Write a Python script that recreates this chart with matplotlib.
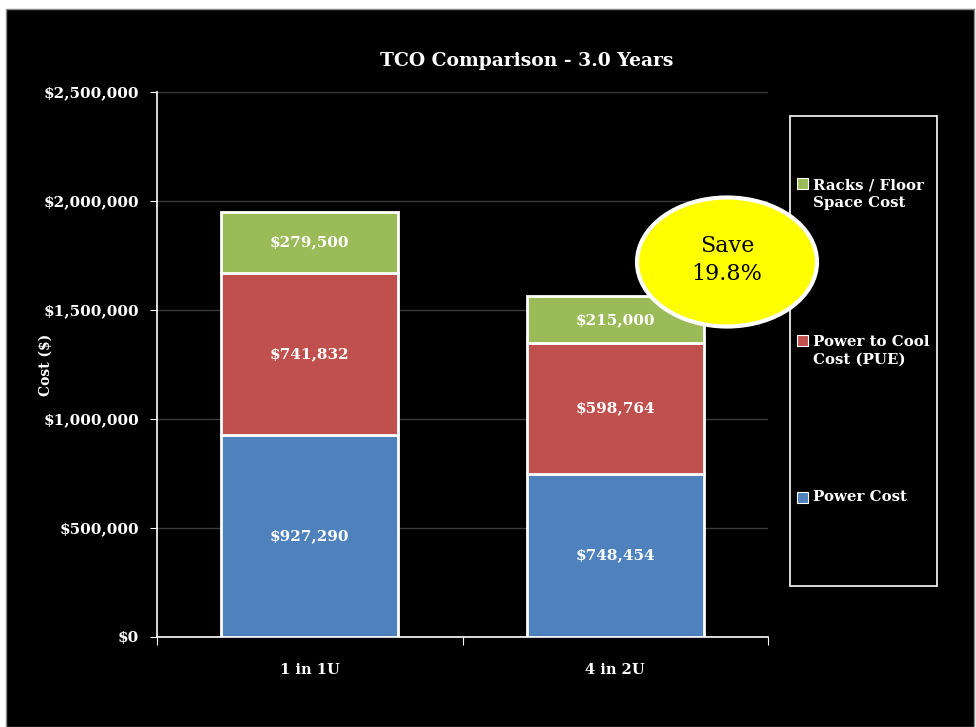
import numpy as np
import matplotlib.pyplot as plt
from matplotlib.patches import Rectangle, Ellipse

# data
categories = ['1 in 1U', '4 in 2U']
power_cost = [927290, 748454]
cool_cost = [741832, 598764]
racks_cost = [279500, 215000]
series_names = ['Power Cost', 'Power to Cool\nCost (PUE)', 'Racks / Floor\nSpace Cost']
colors = ['#4F81BD', '#C0504D', '#9BBB59']
yticks = [0, 500000, 1000000, 1500000, 2000000, 2500000]
save_text = 'Save\n19.8%'

W, H = 976, 727
plt.rcParams['font.family'] = ['DejaVu Serif']

fig = plt.figure(figsize=(W / 100, H / 100), dpi=100, facecolor='white')
# black chart area
fig.patches.append(Rectangle((6 / W, 0), (974 - 6) / W, (H - 9) / H,
                             transform=fig.transFigure, facecolor='black',
                             edgecolor='#888888', lw=1, zorder=-10))

ax = fig.add_axes([157 / W, (H - 637) / H, (768 - 157) / W, (637 - 92) / H])
ax.set_facecolor('black')

x = np.arange(len(categories))
series = [power_cost, cool_cost, racks_cost]
bottom = np.zeros(len(categories))
for vals, c in zip(series, colors):
    vals = np.array(vals)
    ax.bar(x, vals, bottom=bottom, width=0.58, color=c, edgecolor='white',
           linewidth=2, zorder=3)
    for xi, b, v in zip(x, bottom, vals):
        ax.text(xi, b + v / 2, '${:,.0f}'.format(v), ha='center', va='center',
                color='white', fontsize=11, fontweight='bold', zorder=4)
    bottom += vals

ax.set_xlim(-0.5, 1.5)
ax.set_ylim(0, 2500000)
ax.set_yticks(yticks)
ax.set_yticklabels(['${:,.0f}'.format(v) for v in yticks])
ax.yaxis.grid(True, color='#3a3a3a', lw=1, zorder=0)
ax.set_axisbelow(True)

ax.set_xticks([-0.5, 0.5, 1.5])
ax.set_xticklabels([])
ax.set_xticks(x, minor=True)
ax.set_xticklabels(categories, minor=True)
ax.tick_params(axis='x', which='minor', length=0, pad=19, labelsize=10.5)
ax.tick_params(axis='x', which='major', length=6, color='white')
ax.tick_params(axis='y', length=5, color='white', pad=8, labelsize=11)
ax.tick_params(colors='white', which='both')
for lab in ax.get_yticklabels() + ax.get_xticklabels(minor=True):
    lab.set_fontweight('bold')

for s in ['top', 'right']:
    ax.spines[s].set_visible(False)
for s in ['left', 'bottom']:
    ax.spines[s].set_color('white')
    ax.spines[s].set_linewidth(1.2)

ax.set_ylabel('Cost ($)', color='white', fontsize=10, fontweight='bold')
ax.yaxis.set_label_coords(-104 / (768 - 157), 0.5)

fig.text(527 / W, 1 - 61 / H, 'TCO Comparison - 3.0 Years', ha='center', va='center',
         color='white', fontsize=13.5, fontweight='bold')

# legend box
fig.patches.append(Rectangle((790 / W, 1 - 586 / H), (937 - 790) / W, (586 - 116) / H,
                             transform=fig.transFigure, facecolor='black',
                             edgecolor='white', lw=1.2, zorder=1))
leg_y = [194, 351, 497]
for name, c, yy in zip(series_names[::-1], colors[::-1], leg_y):
    nlines = name.count('\n') + 1
    top = yy - (nlines - 1) * 11.5
    fig.patches.append(Rectangle((797 / W, 1 - (top + 6) / H), 11 / W, 11 / H,
                                 transform=fig.transFigure, facecolor=c,
                                 edgecolor='white', lw=0.8, zorder=2))
    fig.text(813 / W, 1 - yy / H, name, ha='left', va='center', color='white',
             fontsize=10.8, fontweight='bold', linespacing=1.35)

# savings callout
fig.patches.append(Ellipse((727 / W, 1 - 262 / H), 180 / W, 129 / H,
                           transform=fig.transFigure, facecolor='#FFFF00',
                           edgecolor='white', lw=3, zorder=5))
fig.text(727 / W, 1 - 260 / H, save_text, ha='center', va='center', color='black',
         fontsize=16, linespacing=1.3, zorder=6)

fig.savefig('out.png', dpi=100, facecolor='white')
